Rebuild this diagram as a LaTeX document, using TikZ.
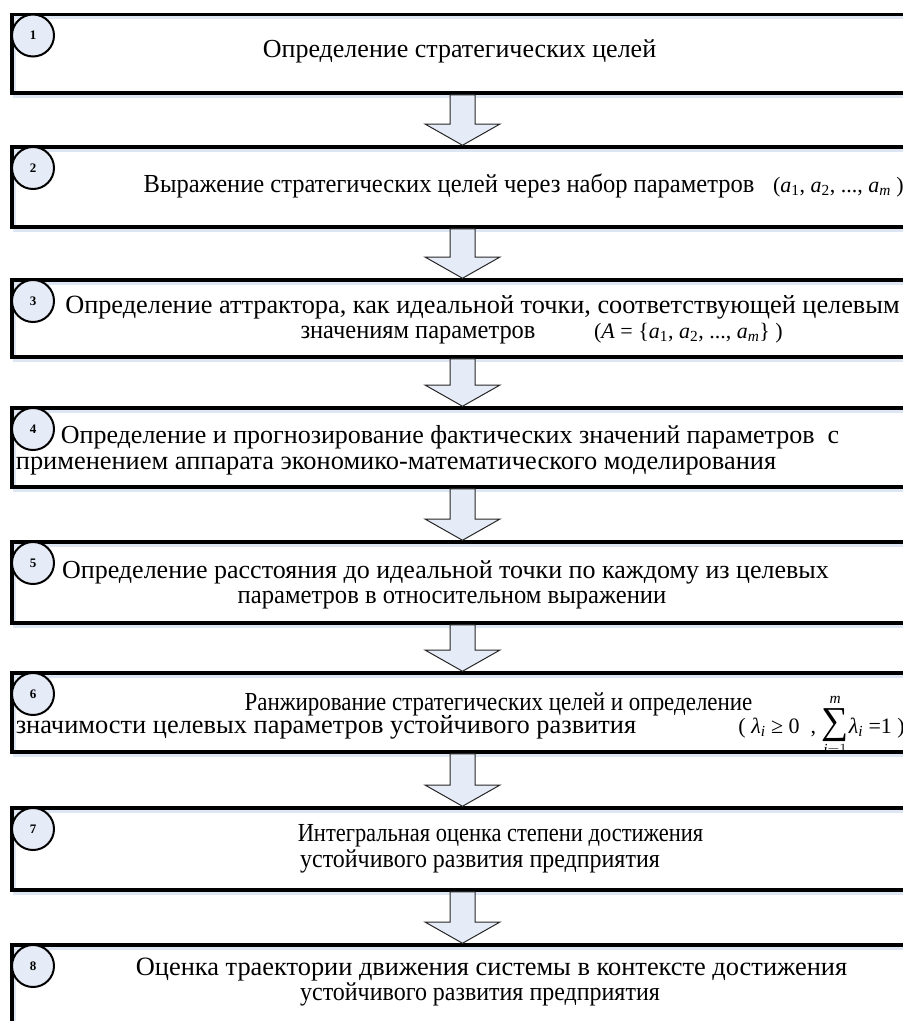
\documentclass[tikz,border=0pt]{standalone}
\usepackage{fix-cm}
\usepackage{amsmath}
\usepackage{fontspec}
\setmainfont{Liberation Serif}
\usetikzlibrary{calc}
\definecolor{paleblue}{HTML}{E6ECF7}
\definecolor{glowblue}{HTML}{DDE6F2}
\tikzset{
  stepframe/.style={draw, rectangle, line width=3.5pt, outer sep=0pt, inner sep=0pt, minimum width=901pt, anchor=north west},
  boxglow/.style={draw=glowblue, line width=3pt},
  stepnum/.style={draw, circle, line width=2pt, fill=paleblue, minimum size=42pt, inner sep=0pt, font=\fontsize{13}{15}\selectfont\bfseries},
  steptext/.style={inner sep=0pt, anchor=base, font=\fontsize{#1}{30}\selectfont},
  steptext/.default=26,
  formula/.style={inner sep=0pt, anchor=base east, font=\fontsize{22}{26}\selectfont},
  arrowbody/.style={draw=black!85, line width=1pt, fill=paleblue, line join=miter}
}
\newcommand{\stepBox}[3]{ \draw[boxglow] (14.5,-#2-3) rectangle (916,-#3-3); \node[stepframe, minimum height=#3pt-#2pt] (s#1) at (12,-#2) {}; \node[stepnum] (n#1) at ($(s#1.north west)+(21,-21)$) {#1};}
\newcommand{\flowArrow}[2]{ \filldraw[arrowbody] ($(#1.south)+(-12.5,-1.75)$) -- ($(#2.north)+(-12.5,23)$) -- ++(-25,0) -- ($(#2.north)+(0,1.75)$) -- ($(#2.north)+(37.5,23)$) -- ++(-25,0) -- ($(#1.south)+(12.5,-1.75)$) -- cycle;}
\newcommand{\iv}[1]{\textit{#1}}
\newcommand{\low}[1]{\textsubscript{#1}}
\newcommand{\squeeze}[2]{\scalebox{#1}[1]{#2}}

\begin{document}
\begin{tikzpicture}[x=1pt,y=1pt]
\useasboundingbox (0,0) rectangle (903,-1021);
\clip (0,0) rectangle (903,-1021);
% frames
\stepBox{1}{14.5}{93}
\stepBox{2}{147}{227}
\stepBox{3}{280}{357}
\stepBox{4}{408}{487}
\stepBox{5}{542}{623}
\stepBox{6}{673}{752}
\stepBox{7}{808}{890}
\stepBox{8}{945}{1035}
% arrows
\flowArrow{s1}{s2}
\flowArrow{s2}{s3}
\flowArrow{s3}{s4}
\flowArrow{s4}{s5}
\flowArrow{s5}{s6}
\flowArrow{s6}{s7}
\flowArrow{s7}{s8}
% step1
\node[steptext] (t1) at (459.5,-57) {Определение стратегических целей};
% step2
\node[steptext] (t2) at (449,-192) {\squeeze{0.943}{Выражение стратегических целей через набор параметров}};
\node[formula] (m2) at (904,-192) {(\iv{a}\low{1}, \iv{a}\low{2}, ..., \iv{a}\low{\iv{m}}\ )};
% step3
\node[steptext=26.3] (t3a) at (482.5,-313) {Определение аттрактора, как идеальной точки, соответствующей целевым};
\node[steptext] (t3b) at (418,-338) {\squeeze{0.94}{значениям параметров}};
\node[formula] (m3) at (783,-338) {(\iv{A} = \{\iv{a}\low{1}, \iv{a}\low{2}, ..., \iv{a}\low{\iv{m}}\}\ )};
% step4
\node[steptext] (t4a) at (450,-443) {Определение и прогнозирование фактических значений параметров\ \ с};
\node[steptext=26.4] (t4b) at (396,-469) {применением аппарата экономико-математического моделирования};
% step5
\node[steptext] (t5a) at (445.5,-578) {Определение расстояния до идеальной точки по каждому из целевых};
\node[steptext] (t5b) at (452,-603) {\squeeze{0.947}{параметров в относительном выражении}};
% step6
\node[steptext] (t6a) at (498.5,-710) {\squeeze{0.883}{Ранжирование стратегических целей и определение}};
\node[steptext=26.4] (t6b) at (326,-733) {значимости целевых параметров устойчивого развития};
\node[formula] (m6) at (905,-733) {(\ \iv{λ}\low{\iv{i}} ≥ 0\ \ ,\ $\mathop{\text{\fontsize{38}{38}\selectfont ∑}}\limits_{\text{\itshape i}=1}^{\text{\itshape m}}$\iv{λ}\low{\iv{i}} =1\ )};
% step7
\node[steptext] (t7a) at (500.5,-841) {\squeeze{0.864}{Интегральная оценка степени достижения}};
\node[steptext] (t7b) at (480,-867) {\squeeze{0.922}{устойчивого развития предприятия}};
% step8
\node[steptext=26.4] (t8a) at (491.5,-975) {Оценка траектории движения системы в контексте достижения};
\node[steptext] (t8b) at (480,-1000) {\squeeze{0.922}{устойчивого развития предприятия}};
\end{tikzpicture}
\end{document}
